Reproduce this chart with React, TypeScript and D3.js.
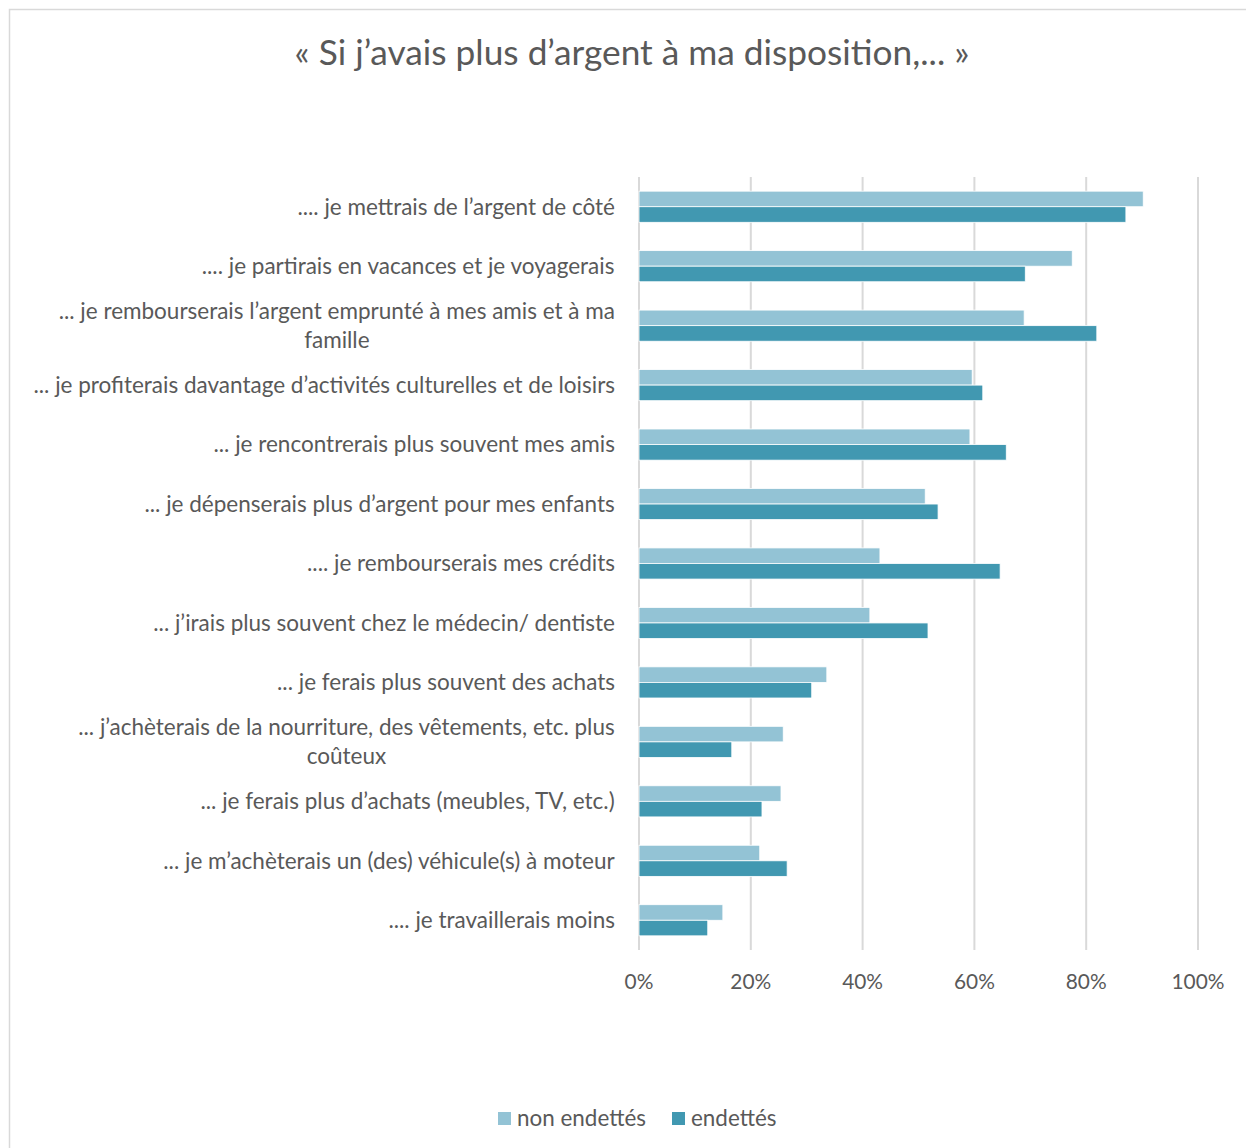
import React, { useMemo } from "react";
import * as d3 from "d3";

const title = "« Si j’avais plus d’argent à ma disposition,... »";

const categories: string[][] = [
  [".... je mettrais de l’argent de côté"],
  [".... je partirais en vacances et je voyagerais"],
  ["... je rembourserais l’argent emprunté à mes amis et à ma", "famille"],
  ["... je profiterais davantage d’activités culturelles et de loisirs"],
  ["... je rencontrerais plus souvent mes amis"],
  ["... je dépenserais plus d’argent pour mes enfants"],
  [".... je rembourserais mes crédits"],
  ["... j’irais plus souvent chez le médecin/ dentiste"],
  ["... je ferais plus souvent des achats"],
  ["... j’achèterais de la nourriture, des vêtements, etc. plus", "coûteux"],
  ["... je ferais plus d’achats (meubles, TV, etc.)"],
  ["... je m’achèterais un (des) véhicule(s) à moteur"],
  [".... je travaillerais moins"],
];

const seriesNames = ["non endettés", "endettés"];
const nonEndettes = [0.902, 0.775, 0.689, 0.596, 0.592, 0.512, 0.431, 0.413, 0.336, 0.258, 0.254, 0.216, 0.150];
const endettes = [0.871, 0.691, 0.819, 0.615, 0.657, 0.535, 0.646, 0.517, 0.309, 0.166, 0.220, 0.265, 0.123];
const ticks = [0, 0.2, 0.4, 0.6, 0.8, 1.0];

const colors = ["#93C3D5", "#4198B1"];
const textColor = "#595959";
const FONT = "Lato, 'Open Sans', sans-serif";

function measurer() {
  const c = document.createElement("canvas");
  const ctx = c.getContext("2d")!;
  return (text: string, size: number) => {
    ctx.font = `${size}px Lato`;
    return ctx.measureText(text).width;
  };
}

export default function App() {
  const W = 1246;
  const H = 1148;
  const measure = useMemo(() => measurer(), []);

  const labelSize = useMemo(() => (20 * 582) / measure(categories[3][0], 20), [measure]);
  const titleSize = useMemo(() => (30 * 675) / measure(title, 30), [measure]);
  const tickSize = useMemo(() => (20 * 53) / measure("100%", 20), [measure]);
  const legendSize = useMemo(() => (20 * 129) / measure("non endettés", 20), [measure]);

  const x = d3.scaleLinear().domain([0, 1]).range([639, 1198]);
  const idx = categories.map((_, i) => String(i));
  const y = d3.scaleBand().domain(idx).range([177, 950]).padding(0);
  const ys = d3.scaleBand().domain(seriesNames).range([0, y.bandwidth()]).paddingInner(0).paddingOuter(0.91);
  const data = [nonEndettes, endettes];

  const labelRight = 615;
  const lineH = 29;

  return (
    <svg width={W} height={H} style={{ position: "absolute", left: 0, top: 0, background: "#fff" }} fontFamily={FONT}>
      <rect x={9.5} y={9.5} width={W + 10} height={H + 10} fill="#fff" stroke="#d9d9d9" strokeWidth={1.5} />
      <text x={632} y={65} textAnchor="middle" fontSize={titleSize} fill={textColor}>{title}</text>

      {ticks.map((t) => (
        <line key={t} x1={x(t)} x2={x(t)} y1={177} y2={950} stroke="#d9d9d9" strokeWidth={2} />
      ))}

      {data.map((vals, s) =>
        vals.map((v, i) => (
          <rect
            key={`${s}-${i}`}
            x={x(0)}
            y={(y(String(i)) as number) + (ys(seriesNames[s]) as number)}
            width={x(v) - x(0)}
            height={ys.bandwidth()}
            fill={colors[s]}
            stroke="#fff"
            strokeWidth={0.8}
          />
        ))
      )}

      {categories.map((lines, i) => {
        const cy = (y(String(i)) as number) + y.bandwidth() / 2;
        const maxW = Math.max(...lines.map((l) => measure(l, labelSize)));
        const cx = labelRight - maxW / 2;
        const y0 = cy - ((lines.length - 1) * lineH) / 2;
        return (
          <text key={i} textAnchor="middle" fontSize={labelSize} fill={textColor}>
            {lines.map((l, j) => (
              <tspan key={j} x={cx} y={y0 + j * lineH} dy="0.35em">{l}</tspan>
            ))}
          </text>
        );
      })}

      {ticks.map((t) => (
        <text key={t} x={x(t)} y={989} textAnchor="middle" fontSize={tickSize} fill={textColor}>
          {d3.format(".0%")(t)}
        </text>
      ))}

      <g>
        <rect x={498} y={1112} width={13} height={13} fill={colors[0]} />
        <text x={517} y={1126} fontSize={legendSize} fill={textColor}>{seriesNames[0]}</text>
        <rect x={672} y={1112} width={13} height={13} fill={colors[1]} />
        <text x={691} y={1126} fontSize={legendSize} fill={textColor}>{seriesNames[1]}</text>
      </g>
    </svg>
  );
}
